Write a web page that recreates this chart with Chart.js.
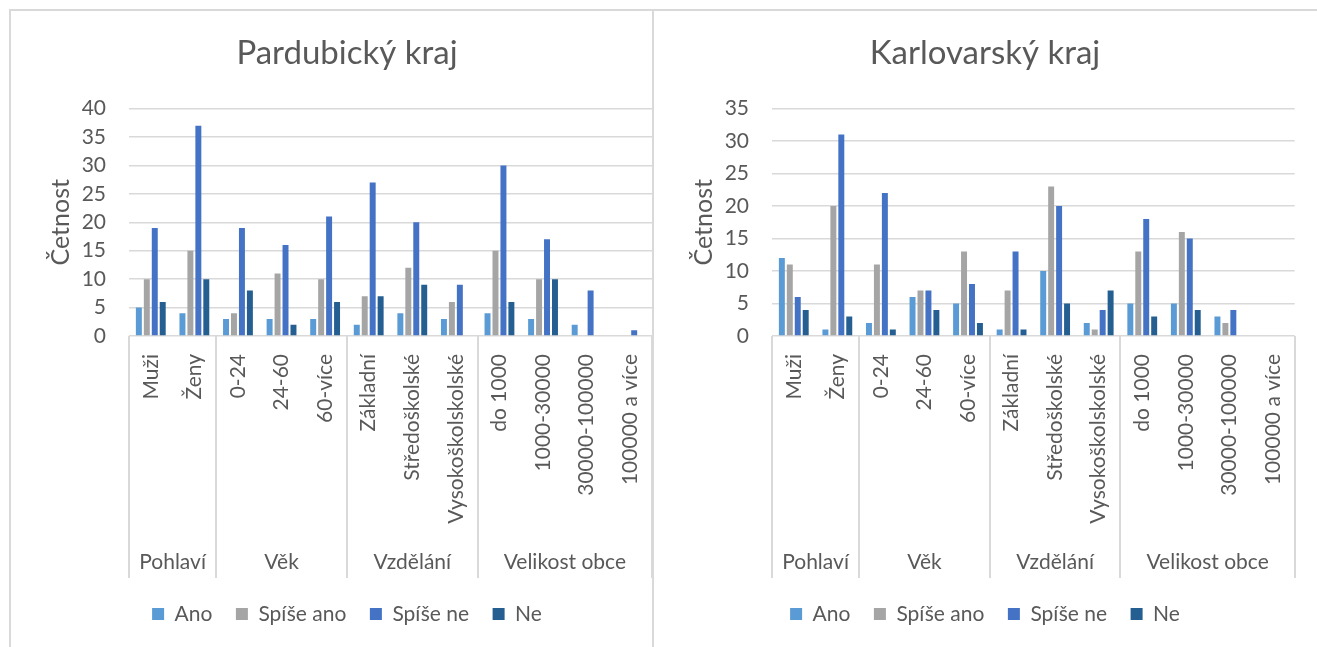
<!DOCTYPE html>
<html lang="cs">
<head>
<meta charset="utf-8">
<title>Četnost odpovědí podle krajů</title>
<script src="https://cdn.jsdelivr.net/npm/chart.js@4.4.1/dist/chart.umd.min.js"></script>
<style>
  html, body { margin: 0; padding: 0; background: #fff; }
  body { width: 1317px; height: 647px; position: relative; overflow: hidden; }
  .panel-left { position: absolute; left: 9px; top: 9px; width: 641px; height: 700px; border: 2px solid #d9d9d9; }
  .panel-right { position: absolute; left: 652px; top: 9px; width: 700px; height: 700px; border-top: 2px solid #d9d9d9; }
  .box { position: absolute; top: 10px; height: 637px; }
  #pardubice-box { left: 10px; width: 674px; }
  #karlovary-box { left: 653px; width: 664px; }
</style>
</head>
<body>
<div class="panel-left"></div>
<div class="panel-right"></div>
<div class="box" id="pardubice-box"><canvas id="pardubice"></canvas></div>
<div class="box" id="karlovary-box"><canvas id="karlovary"></canvas></div>

<script>
// kategorie na ose x a jejich skupiny
const categories = ['Muži', 'Ženy', '0-24', '24-60', '60-více', 'Základní', 'Středoškolské',
  'Vysokoškolskolské', 'do 1000', '1000-30000', '30000-100000', '100000 a více'];
const groups = ['Pohlaví', 'Věk', 'Vzdělání', 'Velikost obce'];
const groupSizes = [2, 3, 3, 4];

const seriesNames = ['Ano', 'Spíše ano', 'Spíše ne', 'Ne'];
const seriesColors = ['#5b9bd5', '#a5a5a5', '#4472c4', '#255e91'];

// Pardubický kraj
const pardAno      = [5, 4, 3, 3, 3, 2, 4, 3, 4, 3, 2, 0];
const pardSpiseAno = [10, 15, 4, 11, 10, 7, 12, 6, 15, 10, 0, 0];
const pardSpiseNe  = [19, 37, 19, 16, 21, 27, 20, 9, 30, 17, 8, 1];
const pardNe       = [6, 10, 8, 2, 6, 7, 9, 0, 6, 10, 0, 0];

// Karlovarský kraj
const karlAno      = [12, 1, 2, 6, 5, 1, 10, 2, 5, 5, 3, 0];
const karlSpiseAno = [11, 20, 11, 7, 13, 7, 23, 1, 13, 16, 2, 0];
const karlSpiseNe  = [6, 31, 22, 7, 8, 13, 20, 4, 18, 15, 4, 0];
const karlNe       = [4, 3, 1, 4, 2, 1, 5, 7, 3, 4, 0, 0];

const textColor = '#595959';
const gridColor = '#d9d9d9';
Chart.defaults.font.family = 'Lato, "Open Sans", sans-serif';
Chart.defaults.color = textColor;

// popisky skupin pod osou x + svislé oddělovače
const groupAxis = {
  id: 'groupAxis',
  afterDraw(chart) {
    const x = chart.scales.x;
    const area = chart.chartArea;
    const ctx = chart.ctx;
    const half = (x.getPixelForValue(1) - x.getPixelForValue(0)) / 2;
    ctx.save();
    ctx.font = '21px ' + Chart.defaults.font.family;
    ctx.fillStyle = textColor;
    ctx.textAlign = 'center';
    ctx.textBaseline = 'middle';
    const edges = [x.getPixelForValue(0) - half];
    let start = 0;
    groupSizes.forEach((n, g) => {
      const left = x.getPixelForValue(start) - half;
      const right = x.getPixelForValue(start + n - 1) + half;
      ctx.fillText(groups[g], (left + right) / 2, x.bottom - 18);
      edges.push(right);
      start += n;
    });
    ctx.strokeStyle = gridColor;
    ctx.lineWidth = 2;
    edges.forEach(px => {
      ctx.beginPath();
      ctx.moveTo(Math.round(px), area.bottom);
      ctx.lineTo(Math.round(px), x.bottom - 2);
      ctx.stroke();
    });
    ctx.restore();
  }
};

function makeChart(id, title, values, yMax, rightGap) {
  const datasets = values.map((data, i) => ({
    label: seriesNames[i],
    data: data,
    backgroundColor: seriesColors[i],
    borderWidth: 0,
    categoryPercentage: 0.73,
    barPercentage: 0.75
  }));

  return new Chart(document.getElementById(id), {
    type: 'bar',
    data: { labels: categories, datasets: datasets },
    plugins: [groupAxis],
    options: {
      responsive: true,
      maintainAspectRatio: false,
      animation: false,
      layout: { padding: { left: 0, right: 0, top: 0, bottom: 12.5 } },
      plugins: {
        title: {
          display: true,
          text: title,
          color: textColor,
          font: { size: 33, weight: 'normal' },
          padding: { top: 24, bottom: 35 }
        },
        legend: {
          position: 'bottom',
          labels: {
            boxWidth: 12,
            boxHeight: 12,
            padding: 23.5,
            color: textColor,
            font: { size: 21 }
          }
        },
        tooltip: { enabled: false }
      },
      scales: {
        x: {
          grid: { display: false, drawTicks: false },
          border: { display: false },
          ticks: {
            autoSkip: false,
            minRotation: 90,
            maxRotation: 90,
            padding: 18,
            color: textColor,
            font: { size: 21 }
          },
          afterFit: s => { s.height = 244; }
        },
        y: {
          min: 0,
          max: yMax,
          ticks: { stepSize: 5, padding: 23, color: textColor, font: { size: 21 } },
          grid: { color: gridColor, lineWidth: 1.5, drawTicks: false },
          border: { display: false },
          title: {
            display: true,
            text: 'Četnost',
            color: textColor,
            font: { size: 25 },
            padding: { top: 36, bottom: 0 }
          },
          afterFit: s => { s.width = 119; }
        },
        // prázdná pravá osa jen drží okraj grafu
        yRight: {
          position: 'right',
          display: true,
          grid: { display: false, drawTicks: false },
          border: { display: false },
          ticks: { display: false },
          afterFit: s => { s.width = rightGap; }
        }
      }
    }
  });
}

makeChart('pardubice', 'Pardubický kraj', [pardAno, pardSpiseAno, pardSpiseNe, pardNe], 40, 32);
makeChart('karlovary', 'Karlovarský kraj', [karlAno, karlSpiseAno, karlSpiseNe, karlNe], 35, 21);
</script>
</body>
</html>
